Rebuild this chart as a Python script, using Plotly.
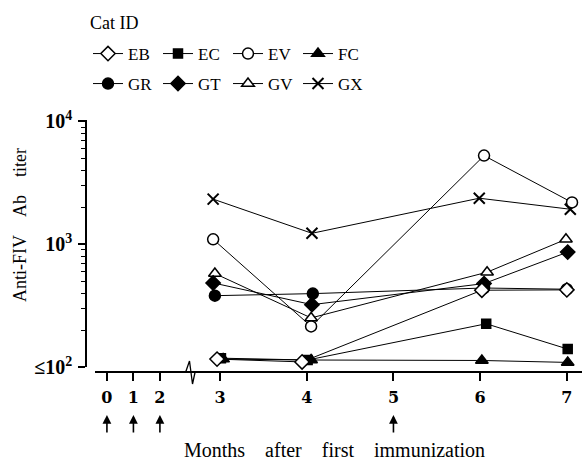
import plotly.graph_objects as go

# ---- data ----
cat_ids = ["EB", "EC", "EV", "FC", "GR", "GT", "GV", "GX"]
EB_months = [2.965, 3.946, 6.02, 7.0]
EB_titer = [116, 110, 422, 425]
EC_months = [3.01, 4.01, 6.07, 7.01]
EC_titer = [118, 114, 225, 140]
EV_months = [2.92, 4.05, 6.045, 7.06]
EV_titer = [1097, 214, 5270, 2190]
FC_months = [3.035, 4.05, 6.02, 7.01]
FC_titer = [116, 114, 113, 109]
GR_months = [2.94, 4.07, 6.045, 7.0]
GR_titer = [381, 396, 440, 430]
GT_months = [2.92, 4.06, 6.045, 7.01]
GT_titer = [484, 322, 478, 863]
GV_months = [2.94, 4.05, 6.08, 6.99]
GV_titer = [577, 251, 592, 1097]
GX_months = [2.92, 4.06, 5.99, 7.04]
GX_titer = [2330, 1228, 2371, 1928]

early_ticks = [0, 1, 2]
late_ticks = [3, 4, 5, 6, 7]
immunization_months = [0, 1, 2, 5]
y_tickvals = [100, 1000, 10000]
y_ticktext = ["<b>≤10<sup>2</sup></b>", "<b>10<sup>3</sup></b>", "<b>10<sup>4</sup></b>"]

series = {
    "EB": (EB_months, EB_titer),
    "EC": (EC_months, EC_titer),
    "EV": (EV_months, EV_titer),
    "FC": (FC_months, FC_titer),
    "GR": (GR_months, GR_titer),
    "GT": (GT_months, GT_titer),
    "GV": (GV_months, GV_titer),
    "GX": (GX_months, GX_titer),
}

styles = {
    "EB": dict(symbol="diamond", size=11, color="white"),
    "EC": dict(symbol="square", size=9, color="black"),
    "EV": dict(symbol="circle", size=11, color="white"),
    "FC": dict(symbol="triangle-up", size=11, color="black"),
    "GR": dict(symbol="circle", size=11, color="black"),
    "GT": dict(symbol="diamond", size=11, color="black"),
    "GV": dict(symbol="triangle-up", size=11, color="white"),
    "GX": dict(symbol="x-thin", size=11, color="black"),
}

SERIF = "Liberation Serif"

fig = go.Figure()
draw_order = ["GX", "GV", "GT", "GR", "FC", "EC", "EV", "EB"]
for name in draw_order:
    xs, ys = series[name]
    st = styles[name]
    idx = cat_ids.index(name)
    fig.add_trace(go.Scatter(
        x=xs, y=ys, name=name, mode="lines+markers",
        xaxis="x2", yaxis="y",
        line=dict(color="black", width=1),
        marker=dict(symbol=st["symbol"], size=st["size"], color=st["color"],
                    line=dict(color="black", width=2 if name == "GX" else 1.5)),
        legend="legend" if idx < 4 else "legend2",
        legendrank=idx,
        cliponaxis=False,
    ))

plot_left, plot_w = 86, 496
plot_top, plot_h = 120, 252

def px_x(p):
    return (p - plot_left) / plot_w

def px_y(p):
    return (plot_top + plot_h - p) / plot_h

break_px = 188

axis_common = dict(
    showline=True, linecolor="black", linewidth=1.5,
    ticks="outside", ticklen=8, tickwidth=1.5, tickcolor="black",
    showgrid=False, zeroline=False, anchor="free", position=0,
    tickfont=dict(family="DejaVu Serif", size=16, color="black"),
    ticklabelstandoff=3,
)

legend_common = dict(
    orientation="h", x=px_x(88), xanchor="left", yanchor="middle",
    entrywidth=25, entrywidthmode="pixels",
    font=dict(family=SERIF, size=17), bgcolor="rgba(0,0,0,0)",
    itemclick=False,
)

fig.update_layout(
    width=582, height=462,
    margin=dict(l=plot_left, r=0, t=plot_top, b=462 - plot_top - plot_h, pad=0),
    paper_bgcolor="white", plot_bgcolor="white",
    font=dict(family=SERIF, color="black"),
    xaxis=dict(domain=[px_x(95), px_x(break_px)], range=[-0.45, 3.06],
               tickvals=early_ticks, ticktext=[f"<b>{t}</b>" for t in early_ticks],
               **axis_common),
    xaxis2=dict(domain=[px_x(break_px), 1], range=[2.63, 7.175],
                tickvals=late_ticks, ticktext=[f"<b>{t}</b>" for t in late_ticks],
                **axis_common),
    yaxis=dict(type="log", range=[2, 4.012], domain=[5 / plot_h, 1],
               anchor="free", position=0,
               showline=True, linecolor="black", linewidth=1.5,
               ticks="outside", ticklen=7, tickwidth=1.5, tickcolor="black",
               tickvals=y_tickvals, ticktext=y_ticktext,
               minor=dict(ticks="outside", ticklen=4, tickwidth=1, tickcolor="black",
                          dtick="D1"),
               showgrid=False, zeroline=False, ticklabelstandoff=2,
               tickfont=dict(family=SERIF, size=20, color="black")),
    legend=dict(y=px_y(54), **legend_common),
    legend2=dict(y=px_y(84), **legend_common),
    showlegend=True,
)

# legend heading
fig.add_annotation(text="Cat ID", x=px_x(88), y=px_y(23), xref="paper", yref="paper",
                   xanchor="left", yanchor="middle", showarrow=False,
                   font=dict(family=SERIF, size=18))

# axis break mark
path = "M{},{} L{},{} L{},{} L{},{}".format(
    px_x(185.5), px_y(372.5), px_x(189.5), px_y(361),
    px_x(192.5), px_y(384), px_x(195), px_y(372.5))
fig.add_shape(type="path", path=path, xref="paper", yref="paper",
              line=dict(color="black", width=1.3))

# immunization arrows
for m in immunization_months:
    fig.add_annotation(x=m, xref="x" if m <= 2 else "x2", y=px_y(415), yref="paper",
                       text="", showarrow=True, ax=0, ay=19, arrowhead=2,
                       arrowsize=1.1, arrowwidth=1.6, arrowcolor="black", standoff=0)

nb = "\u00a0"
fig.add_annotation(text=("Months" + nb * 4 + "after" + nb * 4 + "first" + nb * 4 + "immunization"),
                   x=px_x(334), y=px_y(450), xref="paper", yref="paper",
                   xanchor="center", yanchor="middle",
                   showarrow=False, font=dict(family=SERIF, size=20))
fig.add_annotation(text=("Anti-FIV" + nb * 4 + "Ab" + nb * 4 + "titer"),
                   x=px_x(20), y=px_y(225), xref="paper", yref="paper",
                   xanchor="center", yanchor="middle",
                   textangle=-90, showarrow=False, font=dict(family=SERIF, size=18))

fig.write_html("out.html")
